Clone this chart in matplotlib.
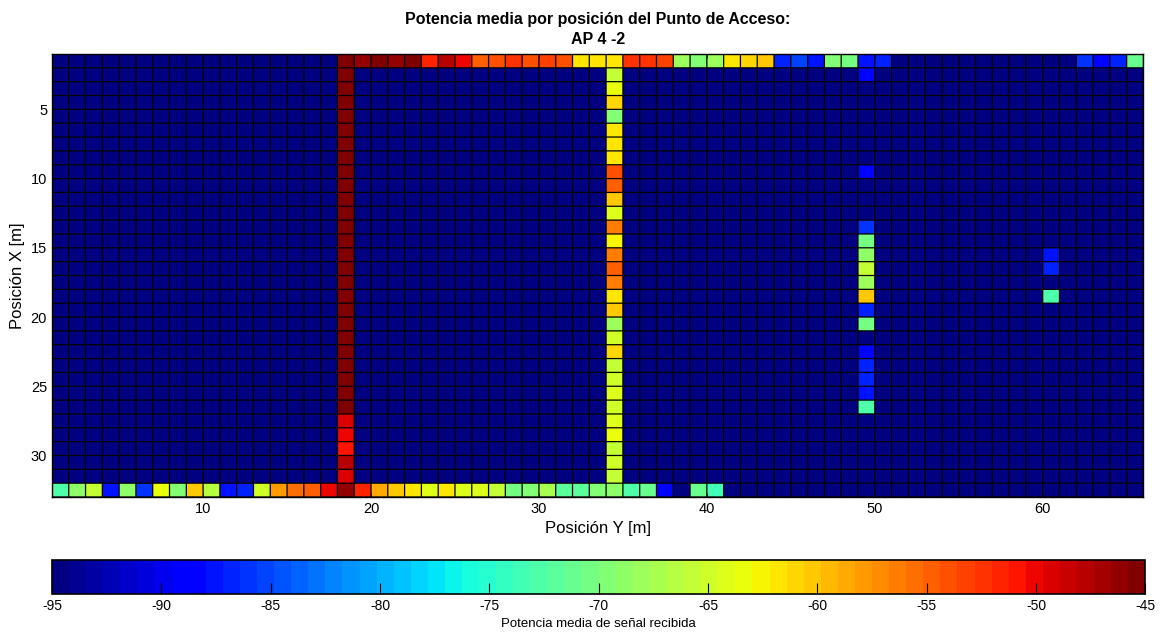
import matplotlib
matplotlib.use("Agg")
import matplotlib.pyplot as plt
import numpy as np

plt.rcParams["font.family"] = ["Liberation Sans", "DejaVu Sans"]
plt.rcParams["axes.unicode_minus"] = False

# grid size (cells drawn like MATLAB pcolor: 32 rows x 65 columns)
N_ROWS = 32
N_COLS = 65
BASE = -95.0

# row 1 (Posición X = 1), columns 1..65
top_row = [-95] * 17 + [
    -45, -46, -45.5, -46, -45,                      # 18-22
    -51.5, -48, -50, -54.5, -54, -52.5, -54, -53, -54,   # 23-31
    -62, -62, -61.5, -52.5, -52.5, -53,             # 32-37
    -68, -70, -68, -61.5, -61, -60.5,               # 38-43
    -86.5, -85.5, -87.5, -70, -70.5, -87.5, -87,    # 44-50
] + [-95] * 11 + [-86, -88.5, -87, -71]             # 51-65

# row 32 (bottom), columns 1..65
bottom_row = [
    -72.5, -69, -65.5, -87.5, -69, -86, -63, -70, -60.5, -66.5,
    -87.5, -87, -65, -58, -55.5, -55, -50, -46, -52, -59,
    -60, -62, -64, -62, -64.5, -64.5, -66, -70.5, -70, -67,
    -72, -72, -69.5, -69, -72.5, -71.5, -88.5, -95, -71.5, -73.5,
] + [-95] * 25

# column 18, rows 1..32
col18 = [-45] * 26 + [-49.5, -50, -51, -48, -49.5, -46]

# column 34, rows 1..32
col34 = [-61.5, -66, -63.75, -61, -70, -62, -61.5, -62, -54, -54.5,
         -60.5, -64, -56, -62.5, -56, -55, -56.5, -62, -60.5, -68,
         -65, -61, -66, -65, -64.5, -65, -64.5, -63.75, -65.5, -65,
         -65.5, -69]

# column 49, rows 1..32
col49 = [-87.5, -88, -95, -95, -95, -95, -95, -95, -88.5, -95,
         -95, -95, -86, -70.5, -69, -66, -68, -60.5, -87, -70.5,
         -95, -88.5, -87, -87, -87.5, -72.5, -95, -95, -95, -95,
         -95, -95]

# column 60, a few isolated cells
col60_rows = [15, 16, 18]
col60_vals = [-87.5, -87, -72.5]

Z = np.full((N_ROWS, N_COLS), BASE)
Z[0, :] = top_row
Z[-1, :] = bottom_row
Z[:, 17] = col18
Z[:, 33] = col34
Z[:, 48] = col49
for r, v in zip(col60_rows, col60_vals):
    Z[r - 1, 59] = v

x_edges = np.arange(1, N_COLS + 2)
y_edges = np.arange(1, N_ROWS + 2)

cmap = plt.get_cmap("jet", 64)

fig = plt.figure(figsize=(11.73, 6.35), dpi=100)
ax = fig.add_axes([0.0443, 0.2173, 0.9305, 0.6977])
mesh = ax.pcolormesh(x_edges, y_edges, Z, cmap=cmap, vmin=-95, vmax=-45,
                     edgecolors="none")
# faceted cell borders
ax.vlines(x_edges, 1, N_ROWS + 1, colors="k", linewidth=0.9, snap=False)
ax.hlines(y_edges, 1, N_COLS + 1, colors="k", linewidth=0.9, snap=False)
ax.set_xlim(1, N_COLS + 1)
ax.set_ylim(N_ROWS + 1, 1)
ax.set_xticks([10, 20, 30, 40, 50, 60])
ax.set_yticks([5, 10, 15, 20, 25, 30])
ax.tick_params(direction="in", length=3, width=0.5, labelsize=10.5,
               top=True, right=True)
for sp in ax.spines.values():
    sp.set_linewidth(1.0)
ax.set_xlabel("Posición Y [m]", fontsize=12, labelpad=4)
ax.set_ylabel("Posición X [m]", fontsize=12, labelpad=4)
ax.set_title("Potencia media por posición del Punto de Acceso:\nAP 4 -2",
             fontsize=11.5, fontweight="bold", pad=7, linespacing=1.45)

cax = fig.add_axes([0.0443, 0.0646, 0.9322, 0.054])
cb = fig.colorbar(mesh, cax=cax, orientation="horizontal")
cb.set_ticks(np.arange(-95, -44, 5))
cb.ax.tick_params(direction="in", length=8, labelsize=10, width=0.8)
cb.outline.set_linewidth(1.2)
cb.set_label("Potencia media de señal recibida", fontsize=9.5, labelpad=4)

fig.savefig("out.png", dpi=100)
